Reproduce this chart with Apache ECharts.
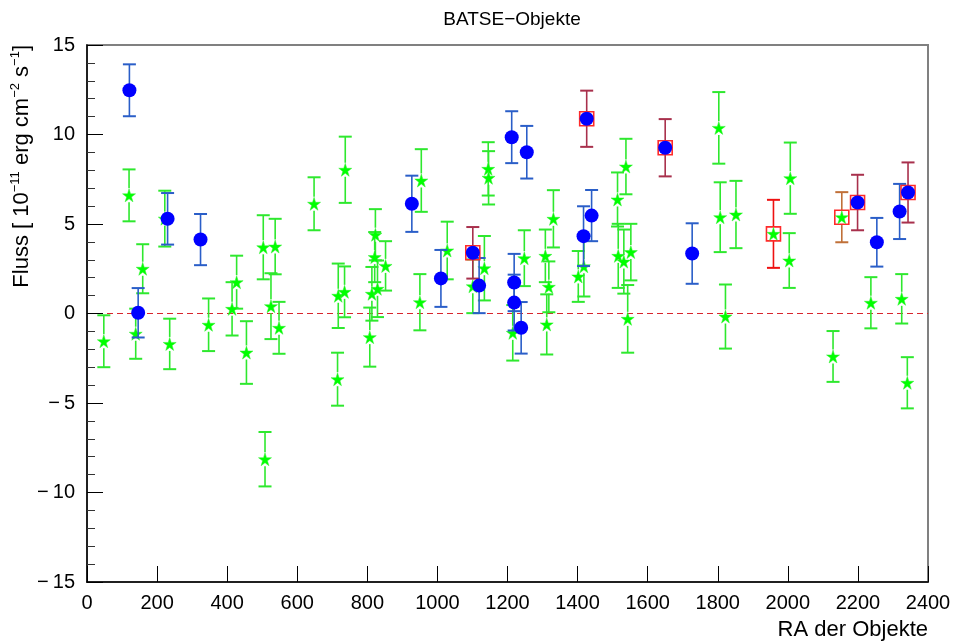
<!DOCTYPE html>
<html>
<head>
<meta charset="utf-8">
<script src="https://cdn.jsdelivr.net/npm/echarts@6/dist/echarts.min.js"></script>
<style>html,body{margin:0;padding:0;background:#fff}#c{width:957px;height:644px}</style>
</head>
<body>
<div id="c"></div>
<script>
// ---- data ----
const xTicks = [0, 200, 400, 600, 800, 1000, 1200, 1400, 1600, 1800, 2000, 2200, 2400];
const yTicks = [-15, -10, -5, 0, 5, 10, 15];

// green stars
const starRA = [48, 120, 139, 159, 222, 236, 347, 414, 427, 455, 503, 508, 525, 537, 548, 648, 715, 717, 735, 737, 807, 813, 821, 823, 829, 852, 950, 954, 1028, 1101, 1134, 1145, 1146, 1215, 1248, 1308, 1312, 1318, 1331, 1402, 1418, 1514, 1516, 1532, 1538, 1543, 1552, 1803, 1807, 1822, 1852, 2004, 2007, 2129, 2237, 2325, 2341];
const starFlux = [-1.55, 6.6, -1.13, 2.5, 5.3, -1.7, -0.63, 0.26, 1.75, -2.18, 3.7, -8.14, 0.41, 3.74, -0.8, 6.13, -3.67, 0.99, 1.21, 8.03, -1.32, 1.1, 3.15, 4.4, 1.38, 2.66, 0.63, 7.43, 3.52, 1.52, 2.53, 8.08, 7.58, -1.08, 3.09, 3.22, -0.61, 1.49, 5.29, 2.07, 2.64, 6.37, 3.22, 2.9, 8.21, -0.3, 3.43, 10.37, 5.38, -0.17, 5.53, 2.96, 7.56, -2.4, 0.6, 0.82, -3.87];
const starErr = [1.45, 1.45, 1.4, 1.37, 1.56, 1.41, 1.47, 1.49, 1.48, 1.75, 1.79, 1.52, 1.84, 1.55, 1.45, 1.48, 1.48, 1.8, 1.42, 1.85, 1.65, 1.5, 1.4, 1.43, 1.58, 1.38, 1.57, 1.75, 1.61, 1.5, 1.8, 1.49, 1.49, 1.55, 1.56, 1.47, 1.68, 1.42, 1.6, 1.42, 1.69, 1.51, 1.79, 1.79, 1.55, 1.89, 1.58, 2.0, 1.95, 1.79, 1.88, 1.53, 1.99, 1.42, 1.43, 1.38, 1.43];

// blue dots
const dotRA = [121, 146, 230, 324, 927, 1010, 1119, 1212, 1219, 1219, 1239, 1255, 1417, 1440, 1727, 2254, 2319];
const dotFlux = [12.47, 0.04, 5.29, 4.13, 6.13, 1.96, 1.56, 9.85, 1.73, 0.61, -0.8, 9.01, 4.32, 5.47, 3.35, 3.98, 5.7];
const dotErr = [1.45, 1.38, 1.44, 1.43, 1.57, 1.59, 1.54, 1.45, 1.6, 1.56, 1.44, 1.47, 1.67, 1.43, 1.69, 1.36, 1.54];

// boxed blue dots
const boxDotRA = [1101, 1426, 1650, 2199, 2343];
const boxDotFlux = [3.39, 10.88, 9.26, 6.2, 6.76];
const boxDotErr = [1.44, 1.57, 1.6, 1.55, 1.68];

// boxed green stars
const boxStarRA = [1959, 2154];
const boxStarFlux = [4.45, 5.38];
const boxStarErr = [1.9, 1.4];

// reference line
const zeroLine = [[0, 0], [2400, 0]];

// ---- drawing ----
const FONT = '"Liberation Sans", Arial, Helvetica, sans-serif';
const STAR = 'path://M50,0 L61,35 L98,35 L68,57 L79,91 L50,70 L21,91 L32,57 L2,35 L39,35 Z';
const zip = (xs, ys, es) => xs.map((x, i) => es ? [x, ys[i], es[i]] : [x, ys[i]]);

function errorBars(xs, ys, es, colorOf, gap, z) {
  return {
    type: 'custom', silent: true, z: z,
    data: zip(xs, ys, es),
    encode: { x: 0, y: 1 },
    renderItem: function (params, api) {
      const x = api.value(0), y = api.value(1), e = api.value(2);
      const c = api.coord([x, y]);
      const hi = api.coord([x, y + e]);
      const lo = api.coord([x, y - e]);
      const hw = 6.5;
      const col = colorOf(params.dataIndex);
      const st = { stroke: col, lineWidth: 1.6 };
      const cap = { stroke: col, lineWidth: 2 };
      return {
        type: 'group', children: [
          { type: 'line', shape: { x1: c[0], y1: hi[1], x2: c[0], y2: c[1] - gap }, style: st },
          { type: 'line', shape: { x1: c[0], y1: c[1] + gap, x2: c[0], y2: lo[1] }, style: st },
          { type: 'line', shape: { x1: c[0] - hw, y1: hi[1], x2: c[0] + hw, y2: hi[1] }, style: cap },
          { type: 'line', shape: { x1: c[0] - hw, y1: lo[1], x2: c[0] + hw, y2: lo[1] }, style: cap }
        ]
      };
    }
  };
}

const boxStarBarColors = ['#ee1111', '#c07038'];

const chart = echarts.init(document.getElementById('c'), null, { renderer: 'canvas' });
chart.setOption({
  animation: false,
  backgroundColor: '#ffffff',
  title: {
    text: 'BATSE\u2212Objekte', left: 507, top: 5, textAlign: 'center',
    textStyle: { fontFamily: FONT, fontSize: 19, fontWeight: 'normal', color: '#000' }
  },
  grid: { left: 87, right: 29, top: 45, bottom: 62, show: true, borderColor: '#808080', borderWidth: 2, backgroundColor: 'transparent' },
  xAxis: {
    type: 'value', min: xTicks[0], max: xTicks[xTicks.length - 1], interval: 200,
    axisLine: { show: true, onZero: false, lineStyle: { color: '#000', width: 1.5 } },
    axisTick: { show: true, inside: true, length: 16, lineStyle: { color: '#000', width: 1 } },
    splitLine: { show: false },
    axisLabel: { margin: 11, fontFamily: FONT, fontSize: 20, color: '#000', showMinLabel: true, showMaxLabel: true, formatter: v => String(v) }
  },
  yAxis: {
    type: 'value', min: yTicks[0], max: yTicks[yTicks.length - 1], interval: 5,
    axisLine: { show: true, onZero: false, lineStyle: { color: '#000', width: 1.5 } },
    axisTick: { show: true, inside: true, length: 16, lineStyle: { color: '#000', width: 1 } },
    minorTick: { show: true, splitNumber: 5, length: 8, lineStyle: { color: '#333', width: 1 } },
    splitLine: { show: false },
    axisLabel: {
      margin: 12, fontFamily: FONT, fontSize: 20, color: '#000',
      formatter: v => v < 0 ? '\u2212\u2009' + Math.abs(v) : String(v)
    }
  },
  graphic: [
    {
      type: 'text', x: 928, y: 630, silent: true,
      style: { text: 'RA der Objekte', align: 'right', verticalAlign: 'middle', font: '22px ' + FONT, fill: '#000' }
    },
    {
      type: 'text', x: 22, y: 45, rotation: Math.PI / 2, silent: true,
      style: {
        text: '{a|Fluss [ 10}{s|\u221211}{a| erg cm}{s|\u22122}{a| s}{s|\u22121}{a|]}',
        align: 'right', verticalAlign: 'middle', fill: '#000',
        rich: {
          a: { fontFamily: FONT, fontSize: 22, lineHeight: 26, fill: '#000' },
          s: { fontFamily: FONT, fontSize: 13, lineHeight: 26, verticalAlign: 'top', padding: [0, 0, 12, 0], fill: '#000' }
        }
      }
    }
  ],
  series: [
    {
      type: 'custom', silent: true, z: 0,
      data: [zeroLine[0].concat(zeroLine[1])],
      encode: { x: [0, 2], y: [1, 3] },
      renderItem: function (params, api) {
        const a = api.coord([api.value(0), api.value(1)]);
        const b = api.coord([api.value(2), api.value(3)]);
        return {
          type: 'line', shape: { x1: a[0], y1: a[1], x2: b[0], y2: b[1] },
          style: { stroke: '#d8262e', lineWidth: 1.2, lineDash: [6, 4] }
        };
      }
    },
    errorBars(starRA, starFlux, starErr, () => '#2ee82e', 7, 1),
    {
      type: 'scatter', data: zip(starRA, starFlux), symbol: STAR, symbolSize: 13, z: 2, silent: true,
      itemStyle: { color: '#00ff00', borderColor: '#33ee33', borderWidth: 0.5, opacity: 1 }
    },
    errorBars(dotRA, dotFlux, dotErr, () => '#2a5ec8', 6, 3),
    errorBars(boxDotRA, boxDotFlux, boxDotErr, () => '#a8304c', 7, 3),
    errorBars(boxStarRA, boxStarFlux, boxStarErr, i => boxStarBarColors[i], 7, 3),
    {
      type: 'scatter', data: zip(boxDotRA.concat(boxStarRA), boxDotFlux.concat(boxStarFlux)),
      symbol: 'rect', symbolSize: 14, z: 4, silent: true,
      itemStyle: { color: 'rgba(255,255,255,0)', borderColor: '#ff2a2a', borderWidth: 1.6, opacity: 1 }
    },
    {
      type: 'scatter', data: zip(boxStarRA, boxStarFlux), symbol: STAR, symbolSize: 13, z: 5, silent: true,
      itemStyle: { color: '#00ff00', borderColor: '#33ee33', borderWidth: 0.5, opacity: 1 }
    },
    {
      type: 'scatter', data: zip(dotRA.concat(boxDotRA), dotFlux.concat(boxDotFlux)),
      symbol: 'circle', symbolSize: 14, z: 6, silent: true,
      itemStyle: { color: '#0000ff', opacity: 1 }
    }
  ]
});
</script>
</body>
</html>
